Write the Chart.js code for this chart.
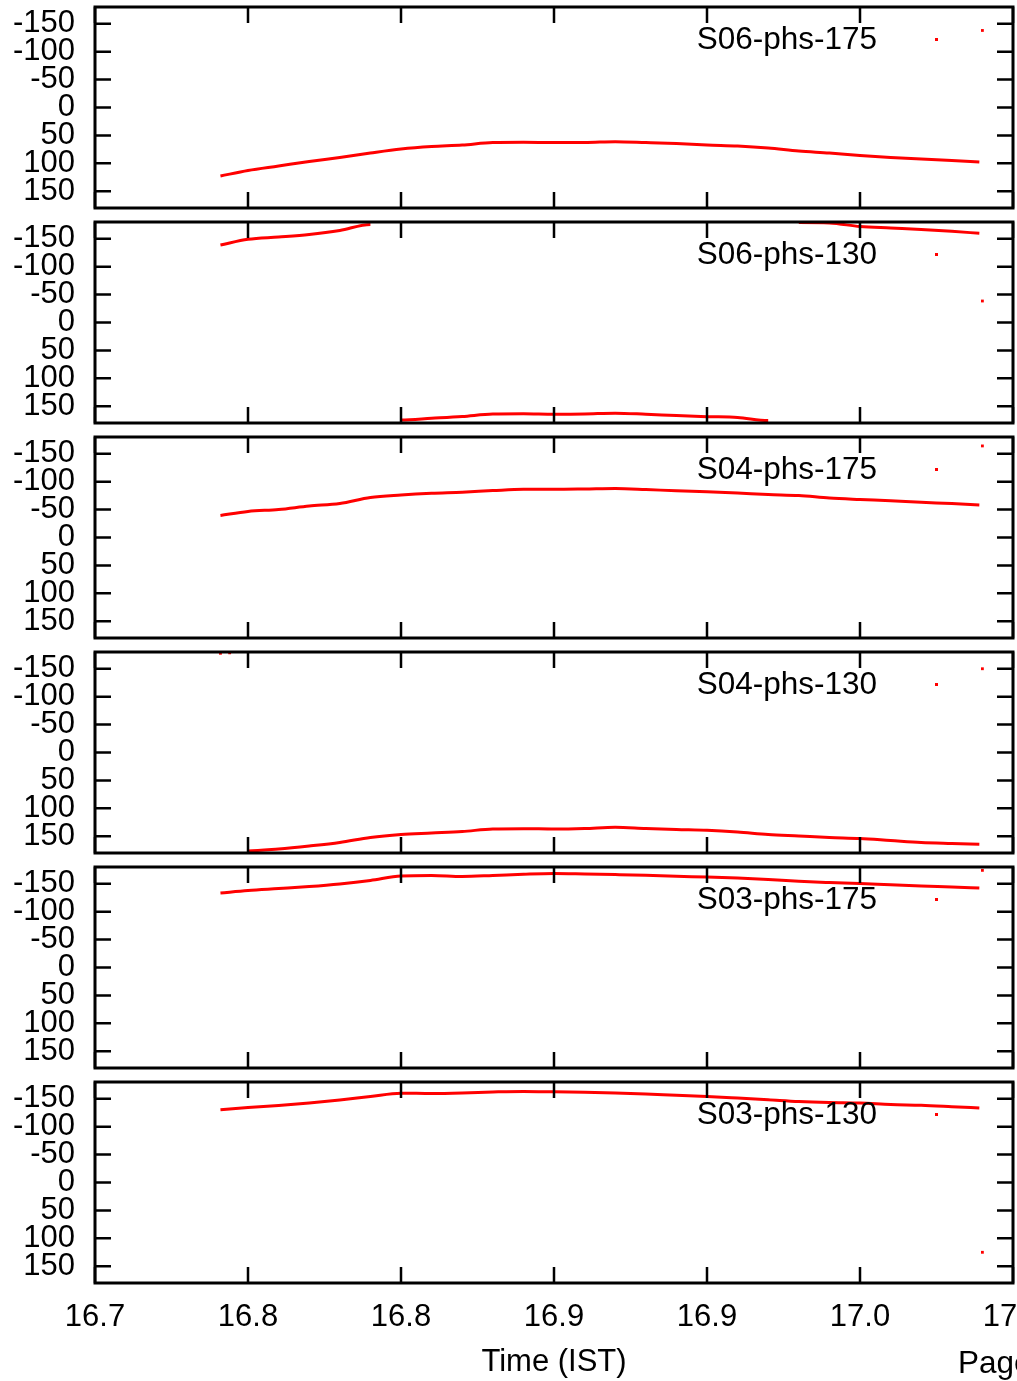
<!DOCTYPE html>
<html>
<head>
<meta charset="utf-8">
<script src="https://cdn.jsdelivr.net/npm/chart.js@4.4.0/dist/chart.umd.min.js"></script>
<style>
  html, body { margin: 0; padding: 0; background: #fff; }
  #page { position: relative; width: 1017px; height: 1381px; overflow: hidden; }
  #page canvas { position: absolute; left: 0; }
</style>
</head>
<body>
<div id="page"></div>
<script>
// sample times (IST hours), shared by all six panels
const times = [16.741, 16.750, 16.760, 16.770, 16.780, 16.790, 16.800, 16.810, 16.820, 16.830,
               16.840, 16.850, 16.860, 16.870, 16.880, 16.890, 16.900, 16.910, 16.920, 16.930,
               16.940, 16.950, 16.960, 16.970, 16.980, 16.989];

const panelLabels = ['S06-phs-175', 'S06-phs-130', 'S04-phs-175', 'S04-phs-130', 'S03-phs-175', 'S03-phs-130'];

// phase (deg), wrapped to +-180
const s06p175 = [122.7, 112.8, 104.8, 96.7, 89.5, 81.5, 74.3, 69.8, 67.2, 62.7, 62.3, 62.7, 62.7,
                 61.2, 62.7, 64.5, 67.2, 69.0, 72.5, 77.9, 81.5, 86.0, 89.5, 92.2, 94.9, 97.6];
const s06p130 = [-138.8, -149.0, -153.0, -157.6, -164.8, -175.5, 174.6, 171.6, 168.4, 163.9, 163.4, 164.3, 163.9,
                 162.4, 164.3, 166.6, 168.6, 170.1, 175.5, -179.0, -178.2, -171.9, -169.2, -166.6, -163.3, -159.8];
const s04p175 = [-39.4, -46.6, -50.2, -56.4, -60.9, -71.6, -76.1, -79.2, -81.1, -84.0, -86.3, -86.3, -86.9,
                 -87.8, -86.0, -83.6, -82.0, -79.7, -77.0, -75.2, -70.7, -68.1, -65.9, -63.0, -60.9, -58.2];
const s04p130 = [-177.7, 176.4, 172.8, 167.5, 161.2, 152.2, 146.9, 144.2, 141.5, 137.0, 136.4, 137.0, 136.1,
                 133.8, 136.1, 137.9, 139.3, 142.4, 146.9, 149.5, 152.2, 154.0, 157.6, 161.2, 163.0, 164.4];
const s03p175 = [-133.4, -137.9, -141.4, -145.0, -149.6, -155.8, -163.9, -164.8, -163.0, -164.8, -167.0, -168.4, -167.5,
                 -166.4, -165.1, -163.3, -162.1, -160.3, -157.6, -154.4, -152.2, -150.4, -148.1, -146.0, -144.2, -142.4];
const s03p130 = [-130.4, -134.4, -138.0, -142.4, -147.8, -154.1, -160.0, -159.4, -160.3, -162.1, -163.2, -162.5, -161.6,
                 -160.3, -158.5, -156.2, -154.1, -151.3, -148.3, -145.1, -143.3, -142.4, -139.7, -138.3, -135.8, -133.4];

// isolated samples (outliers / wrapped stragglers)
const stray06p175 = [[16.990, -138.0]];
const stray06p130 = [[16.990, -38.5]];
const stray04p175 = [[16.990, -164.0]];
const stray04p130 = [[16.741, -177.7], [16.744, -178.5], [16.990, -150.0]];
const stray03p175 = [[16.990, -174.0]];
const stray03p130 = [[16.990, 125.0]];

const xTickValues = [16.70, 16.75, 16.80, 16.85, 16.90, 16.95, 17.00];
const xTickLabels = ['16.7', '16.8', '16.8', '16.9', '16.9', '17.0', '17.0'];
const yTickValues = [-150, -100, -50, 0, 50, 100, 150];
const yTickLabels = ['-150', '-100', '-50', '0', '50', '100', '150'];

const series = [s06p175, s06p130, s04p175, s04p130, s03p175, s03p130];
const strays = [stray06p175, stray06p130, stray04p175, stray04p130, stray03p175, stray03p130];

const RED = '#ff0000';
const FONT = '"Liberation Sans", Arial, Helvetica, sans-serif';
Chart.defaults.font.family = FONT;
Chart.defaults.font.size = 31;
Chart.defaults.color = '#000';

// gnuplot-like frame: border box, inward ticks on all sides, key in the top right
const framePlugin = {
  id: 'frame',
  afterDraw(chart, args, opts) {
    const { ctx, chartArea: a, scales: { x, y } } = chart;
    ctx.save();
    ctx.strokeStyle = '#000';
    ctx.lineWidth = 2.5;
    ctx.beginPath();
    xTickValues.forEach(v => {
      const px = x.getPixelForValue(v);
      ctx.moveTo(px, a.top); ctx.lineTo(px, a.top + 16);
      ctx.moveTo(px, a.bottom); ctx.lineTo(px, a.bottom - 16);
    });
    yTickValues.forEach(v => {
      const py = y.getPixelForValue(v);
      ctx.moveTo(a.left, py); ctx.lineTo(a.left + 16, py);
      ctx.moveTo(a.right, py); ctx.lineTo(a.right - 16, py);
    });
    ctx.stroke();
    ctx.lineWidth = 3;
    ctx.strokeRect(a.left, a.top, a.right - a.left, a.bottom - a.top);

    // key
    ctx.fillStyle = '#000';
    ctx.font = '31.5px ' + FONT;
    ctx.textAlign = 'right';
    ctx.textBaseline = 'middle';
    ctx.fillText(opts.label, a.right - 136, a.top + 33);
    ctx.fillStyle = RED;
    ctx.fillRect(a.right - 78, a.top + 31, 3, 3);

    if (opts.page) {
      ctx.fillStyle = '#000';
      ctx.textAlign = 'left';
      ctx.fillText('Page', 958, chart.height - 17);
    }
    ctx.restore();
  }
};

const page = document.getElementById('page');

function makePanel(i) {
  const last = i === series.length - 1;
  const h = last ? 306 : 215;
  const canvas = document.createElement('canvas');
  canvas.width = 1017; canvas.height = h;
  canvas.style.width = '1017px'; canvas.style.height = h + 'px';
  canvas.style.top = (215 * i) + 'px';
  page.appendChild(canvas);

  new Chart(canvas, {
    type: 'line',
    data: {
      datasets: [
        {
          data: times.map((t, k) => ({ x: t, y: series[i][k] })),
          borderColor: RED,
          borderWidth: 3,
          pointRadius: 0,
          cubicInterpolationMode: 'monotone',
          // hide the jump where the phase wraps around +-180
          segment: {
            borderColor: c => Math.abs(c.p1.parsed.y - c.p0.parsed.y) > 120 ? 'rgba(0,0,0,0)' : RED
          }
        },
        {
          data: strays[i].map(p => ({ x: p[0], y: p[1] })),
          showLine: false,
          pointStyle: 'rect',
          pointRadius: 2,
          pointBorderWidth: 0,
          pointBackgroundColor: RED
        }
      ]
    },
    options: {
      responsive: false,
      animation: false,
      events: [],
      layout: { padding: { top: 7, bottom: last ? 0 : 7, left: 0, right: 1.5 } },
      plugins: {
        legend: { display: false },
        tooltip: { enabled: false },
        frame: { label: panelLabels[i], page: last }
      },
      scales: {
        x: {
          type: 'linear',
          min: 16.70,
          max: 17.00,
          display: last,
          grid: { display: false, drawTicks: false },
          border: { display: false },
          afterBuildTicks: s => { s.ticks = xTickValues.map(v => ({ value: v })); },
          afterFit: s => {
            if (last) s.height = 98;
            s.paddingLeft = 0; s.paddingRight = 0;
          },
          ticks: {
            autoSkip: false, maxRotation: 0, minRotation: 0, padding: 16,
            callback: (v, k) => xTickLabels[k]
          },
          title: { display: true, text: 'Time (IST)', padding: { top: 0, bottom: 0 } }
        },
        y: {
          type: 'linear',
          min: -180,
          max: 180,
          reverse: true,
          grid: { display: false, drawTicks: false },
          border: { display: false },
          afterBuildTicks: s => { s.ticks = yTickValues.map(v => ({ value: v })); },
          afterFit: s => { s.width = 95; s.paddingTop = 0; s.paddingBottom = 0; },
          ticks: { autoSkip: false, padding: 20, callback: (v, k) => yTickLabels[k] }
        }
      }
    },
    plugins: [framePlugin]
  });
}

series.forEach((s, i) => makePanel(i));
</script>
</body>
</html>
